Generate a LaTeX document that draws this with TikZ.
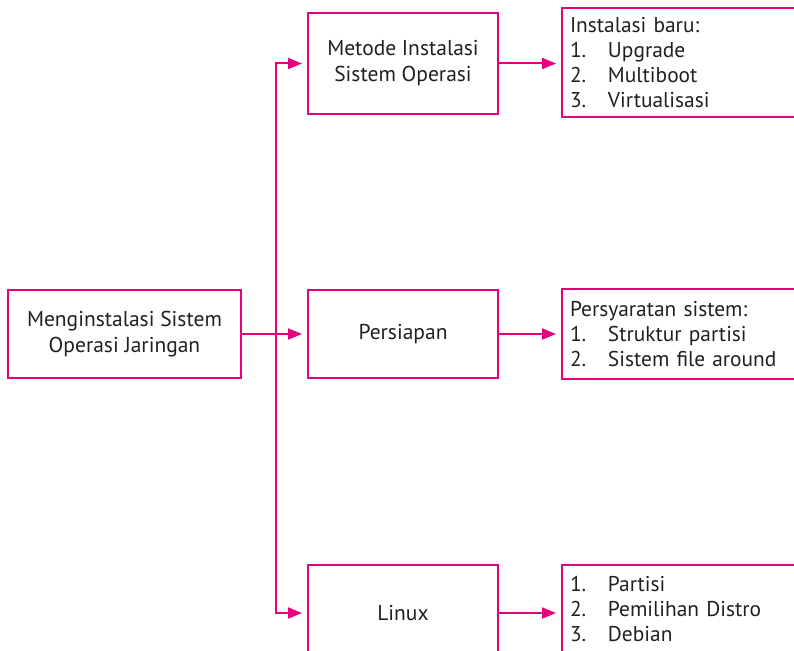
\documentclass[tikz,border=0pt]{standalone}
\usepackage{fontspec}
\setmainfont{PT Sans}
\usetikzlibrary{arrows.meta}
\definecolor{mag}{RGB}{230,0,126}
\definecolor{txt}{RGB}{35,31,32}
\newcommand{\itm}[2]{\makebox[38pt][l]{#1}#2}
\begin{document}
\begin{tikzpicture}[x=1pt,y=-1pt,
  box/.style={draw=mag,line width=2pt,text=txt,font=\fontsize{21.5}{26}\selectfont,align=center,inner sep=0pt},
  listbox/.style={draw=mag,line width=2pt,text=txt,font=\fontsize{21.4}{25}\selectfont,align=left,inner xsep=8pt,inner ysep=0pt,text width=250pt},
  arr/.style={draw=mag,line width=2pt,-{Triangle[length=14pt,width=11pt]},shorten >=5pt},
]
\useasboundingbox (0,0) rectangle (794,650);
\clip (0,0) rectangle (794,650);
\node[box,minimum width=233pt,minimum height=88pt] (main) at (124.5,334) {Menginstalasi Sistem\\Operasi Jaringan};
\node[box,minimum width=190pt,minimum height=101pt] (metode) at (403,63.5) {Metode Instalasi\\Sistem Operasi};
\node[box,minimum width=190pt,minimum height=88pt] (persiapan) at (403,334) {Persiapan};
\node[box,minimum width=190pt,minimum height=96pt] (linux) at (403,613) {Linux};
\node[listbox,minimum height=109pt,anchor=west] (list1) at (561,62.5) {Instalasi baru:\\\itm{1.}{Upgrade}\\\itm{2.}{Multiboot}\\\itm{3.}{Virtualisasi}};
\node[listbox,minimum height=90pt,anchor=west] (list2) at (561,334) {Persyaratan sistem:\\\itm{1.}{Struktur partisi}\\\itm{2.}{Sistem file around}};
\node[listbox,minimum height=88pt,anchor=west] (list3) at (561,609) {\itm{1.}{Partisi}\\\itm{2.}{Pemilihan Distro}\\\itm{3.}{Debian}};
\coordinate (j) at (276,334);
\draw[arr] (main.east) -- (persiapan.west);
\draw[arr] (j) |- (metode.west);
\draw[arr] (j) |- (linux.west);
\draw[arr] (metode.east) -- (metode.east -| list1.west);
\draw[arr] (persiapan.east) -- (persiapan.east -| list2.west);
\draw[arr] (linux.east) -- (linux.east -| list3.west);
\end{tikzpicture}
\end{document}
